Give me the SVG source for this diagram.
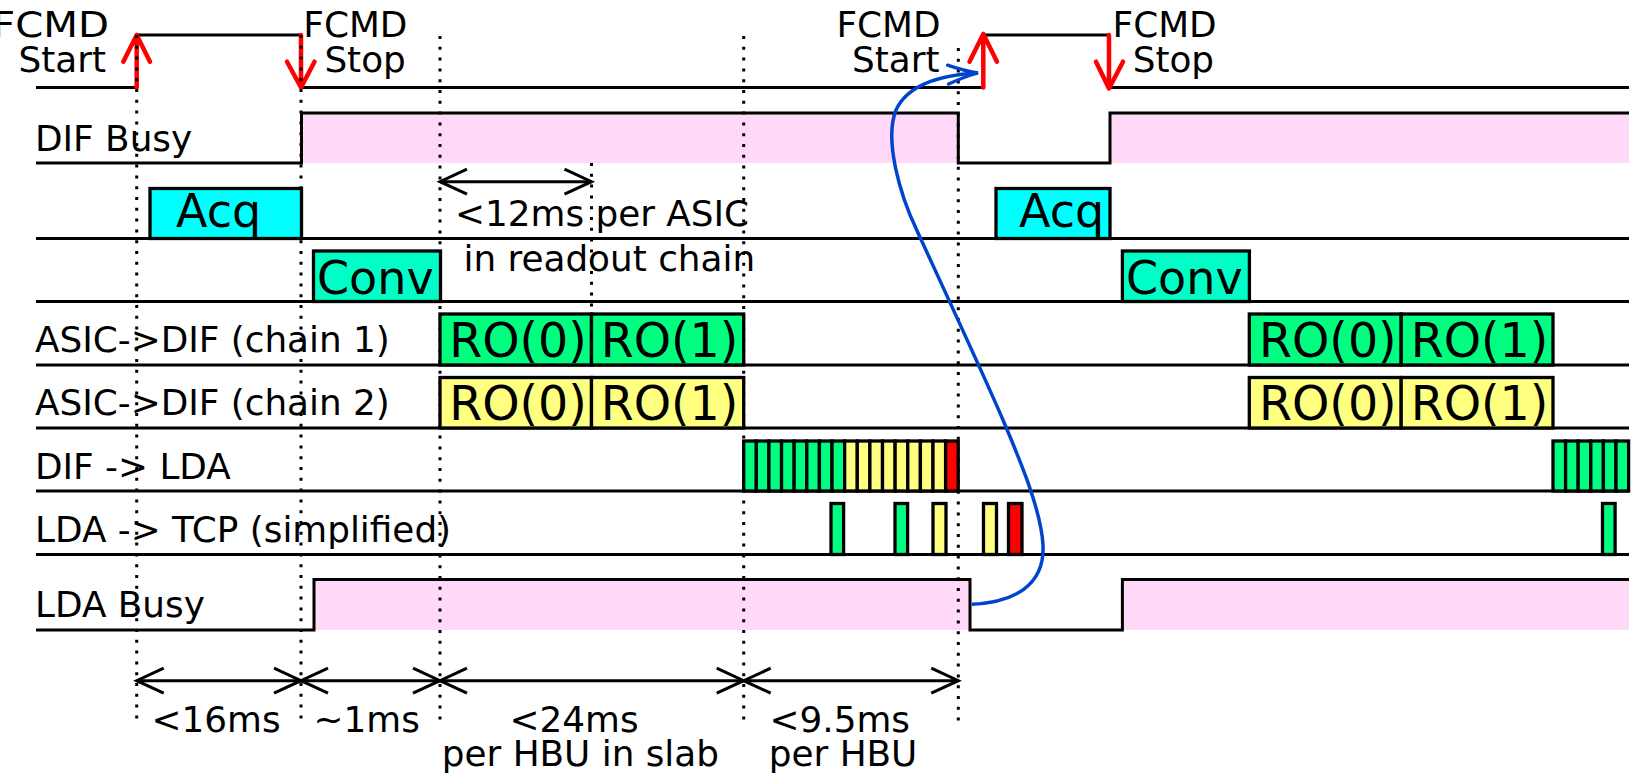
<svg xmlns="http://www.w3.org/2000/svg" width="1631" height="774" viewBox="0 0 1631 774">
<defs>
<style>
text{font-family:"DejaVu Sans",sans-serif;fill:#000}
.lbl{font-size:35.8px}
.box{font-size:46px}
.ro{font-size:47.5px}
.mid{text-anchor:middle}
.end{text-anchor:end}
.ln{fill:none;stroke:#000;stroke-width:3}
.pink{fill:#ffd9f7;stroke:none}
.dot{fill:none;stroke:#000;stroke-width:3;stroke-dasharray:3 7.8}
.bx{stroke:#000;stroke-width:3.3}
.acq{fill:#00ffff}
.conv{fill:#00ffc6}
.grn{fill:#00ff80}
.yel{fill:#ffff80}
.red{fill:#ff0000}
.redarr{fill:none;stroke:#ff0000;stroke-width:4.5;stroke-linecap:round;stroke-linejoin:round}
.tm{fill:none;stroke:#000;stroke-width:3;marker-start:url(#chev);marker-end:url(#chev)}
</style>
<marker id="chev" viewBox="-32 -16 40 32" markerWidth="40" markerHeight="32" refX="0" refY="0" orient="auto-start-reverse" markerUnits="userSpaceOnUse">
<path d="M-27,-12.5 L0,0 L-27,12.5" fill="none" stroke="#000" stroke-width="3"/>
</marker>
<marker id="bluehead" viewBox="-34 -14 40 28" markerWidth="40" markerHeight="28" refX="0" refY="0" orient="auto" markerUnits="userSpaceOnUse">
<path d="M-30,-9.5 Q-14,-3 0,0 Q-14,3 -30,9.5" fill="none" stroke="#0044cc" stroke-width="3.3" stroke-linecap="round"/>
</marker>
</defs>

<g id="background-bands">
<rect class="pink" x="301.5" y="113" width="656.8" height="50"/>
<rect class="pink" x="1110" y="113" width="519" height="50"/>
<rect class="pink" x="314" y="579.5" width="656" height="50.5"/>
<rect class="pink" x="1122.4" y="579.5" width="506.6" height="50.5"/>
</g>

<g id="signal-lines">
<path class="ln" d="M36,87.5 H136.7 M136.7,35 H301 M301,87.5 H983.3 M983.3,35 H1109 M1109,87.5 H1629"/>
<path class="ln" d="M36,163 H301.5 V113 H958.3 V163 H1110 V113 H1629"/>
<path class="ln" d="M36,238.5 H1629 M36,301.5 H1629 M36,365 H1629 M36,428 H1629 M36,491 H1629 M36,554.5 H1629"/>
<path class="ln" d="M36,630 H314 V579.5 H970 V630 H1122.4 V579.5 H1629"/>
</g>

<g id="row-labels" class="lbl">
<text x="35" y="150.5">DIF Busy</text>
<text x="35" y="351.5">ASIC-&gt;DIF (chain 1)</text>
<text x="35" y="415">ASIC-&gt;DIF (chain 2)</text>
<text x="35" y="478.5">DIF -&gt; LDA</text>
<text x="35" y="541.5">LDA -&gt; TCP (simplified)</text>
<text x="35" y="617">LDA Busy</text>
</g>

<g id="fcmd-labels" class="lbl">
<text x="-8" y="36.7" textLength="117" lengthAdjust="spacingAndGlyphs">FCMD</text>
<text class="end" x="106" y="71.7">Start</text>
<text x="303.3" y="36.7">FCMD</text>
<text x="324.4" y="71.7">Stop</text>
<text class="end" x="940.5" y="36.7">FCMD</text>
<text class="end" x="939.5" y="71.7">Start</text>
<text x="1112.6" y="36.7">FCMD</text>
<text x="1132.7" y="71.7">Stop</text>
</g>

<g id="fcmd-arrows">
<path class="redarr" d="M136.7,87.5 V35 M123.3,61.7 L136.7,35 L150,61.7"/>
<path class="redarr" d="M301,35 V87.5 M287,61.7 L301,87.5 L314.5,61.7"/>
<path class="redarr" d="M983.3,87.5 V34 M969.5,61.7 L983.3,34 L997,61.7"/>
<path class="redarr" d="M1109,35 V88.5 M1096,61.7 L1109,88.5 L1123,61.7"/>
</g>

<g id="guides">
<line class="dot" x1="136.7" y1="35" x2="136.7" y2="723"/>
<line class="dot" x1="301" y1="35" x2="301" y2="723"/>
<line class="dot" x1="440" y1="36" x2="440" y2="723"/>
<line class="dot" x1="591.5" y1="163" x2="591.5" y2="314"/>
<line class="dot" x1="743.7" y1="36" x2="743.7" y2="723"/>
<line class="dot" x1="958.3" y1="48" x2="958.3" y2="723"/>
</g>

<g id="acq1"><rect class="bx acq" x="150" y="188.5" width="151.5" height="50"/><text class="box" x="176" y="227">Acq</text></g>
<g id="acq2"><rect class="bx acq" x="996" y="188.5" width="114" height="50"/><text class="box" x="1019" y="227">Acq</text></g>
<g id="conv1"><rect class="bx conv" x="313.5" y="251" width="127" height="50.5"/><text class="box" x="317" y="294">Conv</text></g>
<g id="conv2"><rect class="bx conv" x="1122.4" y="251" width="127" height="50.5"/><text class="box" x="1126" y="294">Conv</text></g>

<g id="ro-chain1-a">
<rect class="bx grn" x="440" y="314" width="151.5" height="51"/><text class="ro mid" x="518" y="357">RO(0)</text>
<rect class="bx grn" x="591.5" y="314" width="152.2" height="51"/><text class="ro mid" x="669.5" y="357">RO(1)</text>
</g>
<g id="ro-chain2-a">
<rect class="bx yel" x="440" y="377.5" width="151.5" height="50.5"/><text class="ro mid" x="518" y="420.3">RO(0)</text>
<rect class="bx yel" x="591.5" y="377.5" width="152.2" height="50.5"/><text class="ro mid" x="669.5" y="420.3">RO(1)</text>
</g>
<g id="ro-chain1-b">
<rect class="bx grn" x="1249.3" y="314" width="151.9" height="51"/><text class="ro mid" x="1327.8" y="357">RO(0)</text>
<rect class="bx grn" x="1401.2" y="314" width="151.8" height="51"/><text class="ro mid" x="1479.5" y="357">RO(1)</text>
</g>
<g id="ro-chain2-b">
<rect class="bx yel" x="1249.3" y="377.5" width="151.9" height="50.5"/><text class="ro mid" x="1327.8" y="420.3">RO(0)</text>
<rect class="bx yel" x="1401.2" y="377.5" width="151.8" height="50.5"/><text class="ro mid" x="1479.5" y="420.3">RO(1)</text>
</g>

<g id="dif-lda-a">
<rect class="bx grn" x="743.7" y="441" width="12.62" height="50"/>
<rect class="bx grn" x="756.32" y="441" width="12.62" height="50"/>
<rect class="bx grn" x="768.94" y="441" width="12.62" height="50"/>
<rect class="bx grn" x="781.56" y="441" width="12.62" height="50"/>
<rect class="bx grn" x="794.18" y="441" width="12.62" height="50"/>
<rect class="bx grn" x="806.8" y="441" width="12.62" height="50"/>
<rect class="bx grn" x="819.42" y="441" width="12.62" height="50"/>
<rect class="bx grn" x="832.04" y="441" width="12.62" height="50"/>
<rect class="bx yel" x="844.66" y="441" width="12.62" height="50"/>
<rect class="bx yel" x="857.28" y="441" width="12.62" height="50"/>
<rect class="bx yel" x="869.9" y="441" width="12.62" height="50"/>
<rect class="bx yel" x="882.52" y="441" width="12.62" height="50"/>
<rect class="bx yel" x="895.14" y="441" width="12.62" height="50"/>
<rect class="bx yel" x="907.76" y="441" width="12.62" height="50"/>
<rect class="bx yel" x="920.38" y="441" width="12.62" height="50"/>
<rect class="bx yel" x="933" y="441" width="12.62" height="50"/>
<rect class="bx red" x="945.62" y="441" width="12.62" height="50"/>
</g>
<g id="dif-lda-b">
<rect class="bx grn" x="1553" y="441" width="12.6" height="50"/>
<rect class="bx grn" x="1565.6" y="441" width="12.6" height="50"/>
<rect class="bx grn" x="1578.2" y="441" width="12.6" height="50"/>
<rect class="bx grn" x="1590.8" y="441" width="12.6" height="50"/>
<rect class="bx grn" x="1603.4" y="441" width="12.6" height="50"/>
<rect class="bx grn" x="1616" y="441" width="12.6" height="50"/>
</g>

<g id="lda-tcp">
<rect class="bx grn" x="831" y="503.5" width="12.6" height="51"/>
<rect class="bx grn" x="895" y="503.5" width="12.6" height="51"/>
<rect class="bx yel" x="933" y="503.5" width="13" height="51"/>
<rect class="bx yel" x="983.5" y="503.5" width="13" height="51"/>
<rect class="bx red" x="1008.5" y="503.5" width="13.5" height="51"/>
<rect class="bx grn" x="1602.5" y="503.5" width="12.6" height="51"/>
</g>

<g id="readout-note">
<line class="tm" x1="440" y1="181.7" x2="591.5" y2="181.7"/>
<text class="lbl" x="455" y="226">&lt;12ms per ASIC</text>
<text class="lbl" x="463.5" y="270.7">in readout chain</text>
</g>

<g id="connectors">
<path d="M971.7,604.3 C1015,602 1045,585 1043,545 C1041,510 1020,460 1003,420 C986,380 935,270 916.7,230 C900,195 884,140 896,110 C908,84 940,75 978,73" fill="none" stroke="#0044cc" stroke-width="3.5" marker-end="url(#bluehead)"/>
</g>

<g id="timing">
<line class="tm" x1="136.7" y1="680.7" x2="301" y2="680.7"/>
<line class="tm" x1="301" y1="680.7" x2="440" y2="680.7"/>
<line class="tm" x1="440" y1="680.7" x2="743.7" y2="680.7"/>
<line class="tm" x1="743.7" y1="680.7" x2="958.3" y2="680.7"/>
<g class="lbl">
<text x="151.5" y="731.7">&lt;16ms</text>
<text x="313.5" y="731.7">~1ms</text>
<text x="509.5" y="731.7">&lt;24ms</text>
<text x="441.8" y="766">per HBU in slab</text>
<text x="769.5" y="731.7">&lt;9.5ms</text>
<text x="768.8" y="766">per HBU</text>
</g>
</g>
</svg>
